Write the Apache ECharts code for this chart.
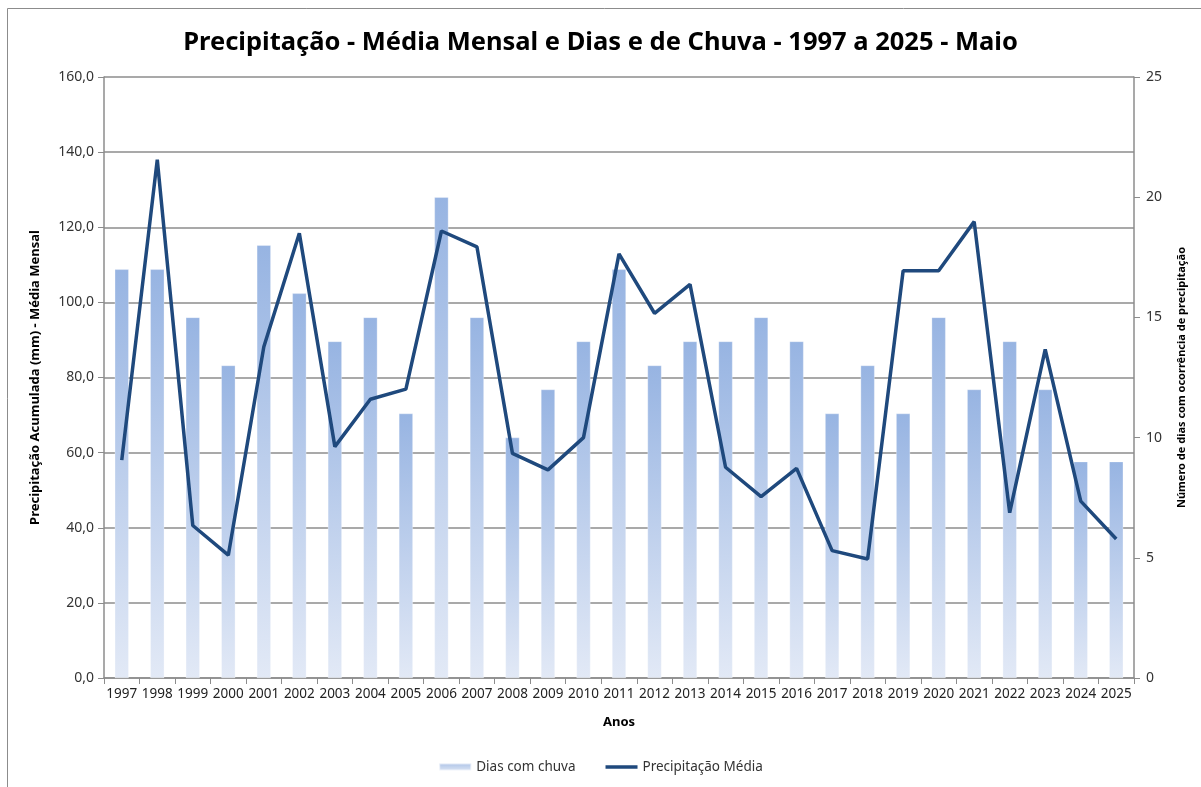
<!DOCTYPE html>
<html><head><meta charset="utf-8">
<script src="https://cdn.jsdelivr.net/npm/echarts@6/dist/echarts.min.js"></script>
<style>html,body{margin:0;padding:0;background:#fff}#c{width:1201px;height:787px}</style>
</head><body><div id="c"></div>
<script>
const years = ['1997','1998','1999','2000','2001','2002','2003','2004','2005','2006','2007','2008','2009','2010','2011','2012','2013','2014','2015','2016','2017','2018','2019','2020','2021','2022','2023','2024','2025'];
const diasComChuva = [17,17,15,13,18,16,14,15,11,20,15,10,12,14,17,13,14,14,15,14,11,13,11,15,12,14,12,9,9];
const precipMedia = [58.0,138.0,40.6,32.7,88.2,118.4,61.6,74.2,76.9,119.0,114.8,59.8,55.4,64.0,112.9,97.1,104.8,56.1,48.3,55.8,33.9,31.7,108.4,108.4,121.5,44.0,87.5,47.1,37.0];
const leftTicks = {min:0, max:160, interval:20};
const rightTicks = {min:0, max:25, interval:5};

const FONT = '"Noto Sans", "Open Sans", sans-serif';
const chart = echarts.init(document.getElementById('c'), null, {renderer:'canvas'});
const barGrad = new echarts.graphic.LinearGradient(0,0,0,1,[
  {offset:0, color:'#97b4e2'},
  {offset:1, color:'#e2e9f6'}
]);
chart.setOption({
  backgroundColor:'#fff',
  animation:false,
  title:{
    text:'Precipitação - Média Mensal e Dias e de Chuva - 1997 a 2025 - Maio',
    left:'center', top:25,
    textStyle:{fontFamily:FONT, fontSize:25.5, fontWeight:'bold', color:'#000'}
  },
  graphic:[{type:'rect', shape:{x:7.5,y:8.5,width:1250,height:850}, style:{fill:'none', stroke:'#8c8c8c', lineWidth:1}, silent:true, z:-1}],
  grid:{left:104, right:67, top:77, bottom:109, containLabel:false},
  legend:{
    bottom:8, left:'center', itemGap:30,
    textStyle:{fontFamily:FONT, fontSize:13.5, color:'#333'},
    data:[
      {name:'Dias com chuva', icon:'rect', itemStyle:{color:new echarts.graphic.LinearGradient(0,0,0,1,[{offset:0,color:'#a9c0e6'},{offset:1,color:'#dfe7f5'}])}},
      {name:'Precipitação Média', icon:'path://M0 0H32V3.5H0Z'}
    ],
    itemWidth:32, itemHeight:7
  },
  xAxis:{
    type:'category', data:years, boundaryGap:true,
    name:'Anos', nameLocation:'middle', nameGap:38,
    nameTextStyle:{fontFamily:FONT, fontSize:13, fontWeight:'bold', color:'#000'},
    axisLine:{lineStyle:{color:'#8c8c8c', width:1.5}},
    axisTick:{show:true, alignWithLabel:false, interval:0, length:6, lineStyle:{color:'#8c8c8c'}},
    axisLabel:{interval:0, fontFamily:FONT, fontSize:13.5, color:'#222', margin:9}
  },
  yAxis:[
    {
      type:'value', min:leftTicks.min, max:leftTicks.max, interval:leftTicks.interval,
      name:'Precipitação Acumulada (mm) - Média Mensal', nameLocation:'middle', nameGap:62,
      nameTextStyle:{fontFamily:FONT, fontSize:13, fontWeight:'bold', color:'#000'},
      axisLine:{show:true, lineStyle:{color:'#8c8c8c', width:1.5}},
      axisTick:{show:true, length:6, lineStyle:{color:'#8c8c8c'}},
      axisLabel:{fontFamily:FONT, fontSize:14, color:'#333', margin:10, formatter:v=>v.toFixed(1).replace('.',',')},
      splitLine:{show:true, lineStyle:{color:'#8c8c8c', width:1.5}}
    },
    {
      type:'value', min:rightTicks.min, max:rightTicks.max, interval:rightTicks.interval, position:'right',
      name:'Número de dias com ocorrência de precipitação', nameLocation:'middle', nameGap:42, nameRotate:90,
      nameTextStyle:{fontFamily:FONT, fontSize:11, fontWeight:'bold', color:'#000'},
      axisLine:{show:true, lineStyle:{color:'#8c8c8c', width:1.5}},
      axisTick:{show:true, length:6, lineStyle:{color:'#8c8c8c'}},
      axisLabel:{fontFamily:FONT, fontSize:14, color:'#333', margin:12},
      splitLine:{show:false}
    }
  ],
  series:[
    {
      name:'Dias com chuva', type:'bar', yAxisIndex:1, data:diasComChuva,
      barWidth:14,
      itemStyle:{color:barGrad, borderColor:'rgba(255,255,255,0.6)', borderWidth:0.5}
    },
    {
      name:'Precipitação Média', type:'line', yAxisIndex:0, data:precipMedia,
      symbol:'none', lineStyle:{color:'#1f497d', width:3.5}, itemStyle:{color:'#1f497d'}, z:5
    }
  ]
});
</script></body></html>
